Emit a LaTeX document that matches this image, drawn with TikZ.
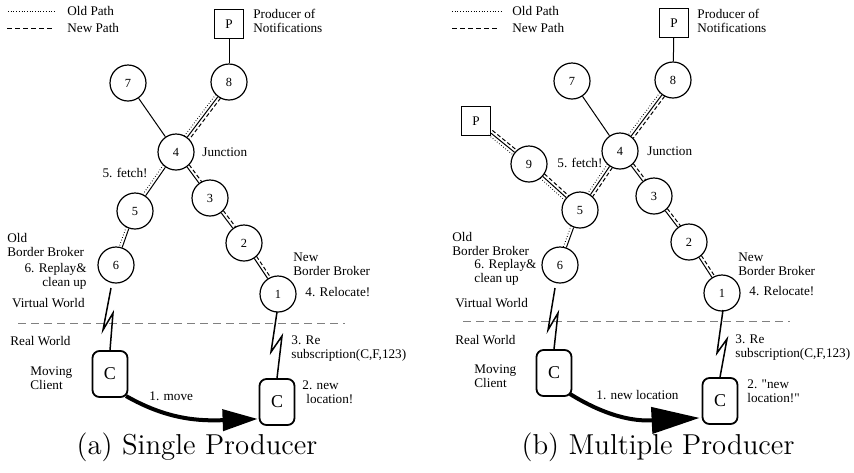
\documentclass[tikz,border=0pt]{standalone}
\usepackage{fontspec}
\newfontfamily\tms{Liberation Serif}
\usetikzlibrary{calc,arrows.meta}
\newcommand{\offl}[7]{\draw[#1] ($(#2)!#6!(#3)!1.5pt!#4:(#3)$) -- ($(#3)!#7!(#2)!1.5pt!#5:(#2)$);}
\newcommand{\oldl}[2]{\offl{oldp}{#1}{#2}{-90}{90}{9pt}{9pt}}
\newcommand{\newl}[2]{\offl{newp}{#1}{#2}{90}{-90}{9pt}{9pt}}
\begin{document}
\begin{tikzpicture}[x=0.5pt,y=-0.5pt,
  brk/.style={circle,draw,line width=0.6pt,minimum size=18pt,inner sep=0pt,font=\tms\fontsize{6.2}{7}\selectfont},
  prod/.style={rectangle,draw,line width=0.6pt,minimum size=14.5pt,inner sep=0pt,font=\tms\fontsize{6.6}{7}\selectfont},
  cli/.style={rectangle,rounded corners=3.5pt,draw,line width=0.9pt,minimum width=17.5pt,minimum height=23pt,inner sep=0pt,font=\tms\fontsize{9}{10}\selectfont},
  lbl/.style={font=\tms\fontsize{6.6}{7}\selectfont,inner sep=0pt,anchor=west,align=left},
  plainedge/.style={line width=0.5pt},
  oldp/.style={line width=0.45pt,dash pattern=on 0.35pt off 1pt},
  newp/.style={line width=0.5pt,dash pattern=on 2pt off 1.2pt},
  legdash/.style={line width=0.5pt,dash pattern=on 2.5pt off 1.5pt},
  worldsep/.style={gray,line width=0.5pt,dash pattern=on 4pt off 2.5pt},
  bolt/.style={line width=0.75pt},
  movearrow/.style={line width=2pt},
  captxt/.style={font=\fontsize{14.4}{17}\selectfont,inner sep=0pt}
]
\useasboundingbox (0,0) rectangle (854,472);

% ================= (a) =================
\coordinate (ao1) at (8,11); \coordinate (ao2) at (55,11);
\coordinate (an1) at (7,28); \coordinate (an2) at (55,28);
\draw[oldp] (ao1) -- (ao2);
\draw[legdash] (an1) -- (an2);
\node[lbl] (aold) at (67,11) {Old Path};
\node[lbl] (anew) at (67,28) {New Path};

\node[prod] (aP) at (229,24) {P};
\node[brk] (a8) at (229,82) {8};
\node[brk] (a7) at (128,83) {7};
\node[brk] (a4) at (176,152) {4};
\node[brk] (a3) at (210,198) {3};
\node[brk] (a2) at (244,243) {2};
\node[brk] (a1) at (278,294) {1};
\node[brk] (a5) at (135,211) {5};
\node[brk] (a6) at (116,265) {6};
\node[cli] (aCl) at (110,374) {C};
\node[cli] (aCr) at (277,402) {C};

\draw[plainedge] (aP) -- (a8);
\draw[plainedge] (a7) -- (a4);
\draw[plainedge] (a8) -- (a4); \oldl{a8}{a4} \newl{a8}{a4}
\draw[plainedge] (a4) -- (a3); \newl{a4}{a3}
\draw[plainedge] (a3) -- (a2); \newl{a3}{a2}
\draw[plainedge] (a2) -- (a1); \newl{a2}{a1}
\draw[plainedge] (a4) -- (a5); \oldl{a4}{a5}
\draw[plainedge] (a5) -- (a6); \oldl{a5}{a6}

\node[lbl] (aprodl) at (253,21) {Producer of\\Notifications};
\node[lbl] (ajunc) at (202,152) {Junction};
\node[lbl,anchor=east] (afetch) at (148,173) {5. fetch!};
\node[lbl] (aoldb) at (7,245) {Old\\Border Broker};
\node[lbl,anchor=east,align=right] (arepl) at (87,276) {6. Replay\&\\clean up};
\node[lbl,anchor=east] (avirt) at (85,303) {Virtual World};
\node[lbl] (anewb) at (293,264) {New\\Border Broker};
\node[lbl] (areloc) at (305,292) {4. Relocate!};
\node[lbl] (areal) at (10,341) {Real World};
\node[lbl] (amov) at (30,378) {Moving\\Client};
\node[lbl] (aresub) at (291,349) {3. Re\\subscription(C,F,123)};
\node[lbl] (anewloc) at (302,392) {2. new\\\hspace*{2pt}location!};
\node[lbl] (amove) at (149,396) {1. move};

\coordinate (as1) at (18,323); \coordinate (as2) at (345,323);
\draw[worldsep] (as1) -- (as2);

\coordinate (ab1) at (111,288); \coordinate (ab2) at (103,330); \coordinate (ab3) at (113,313);
\draw[bolt] (ab1) -- (ab2) -- (ab3) -- (aCl.north);
\coordinate (ac1) at (277,312); \coordinate (ac2) at (271,352); \coordinate (ac3) at (282,336);
\draw[bolt] (ac1) -- (ac2) -- (ac3) -- (aCr.north);

\coordinate (aas) at (126,396);
\coordinate (aae) at ($(aCr.south west)+(-1,-7)$);
\draw[movearrow,-{Triangle[length=17.5pt,width=10.5pt]}] (aas) .. controls (168,420) and (200,421) .. (aae);

\node[captxt] (acap) at (197,447) {(a) Single Producer};

% ================= (b) =================
\coordinate (bo1) at (452,11); \coordinate (bo2) at (502,11);
\coordinate (bn1) at (452,28); \coordinate (bn2) at (500,28);
\draw[oldp] (bo1) -- (bo2);
\draw[legdash] (bn1) -- (bn2);
\node[lbl] (bold) at (512,11) {Old Path};
\node[lbl] (bnew) at (512,28) {New Path};

\node[prod] (bP) at (674,23) {P};
\node[prod] (bP2) at (476,121) {P};
\node[brk] (b8) at (673,80) {8};
\node[brk] (b7) at (572,81) {7};
\node[brk] (b4) at (620,151) {4};
\node[brk] (b3) at (654,196) {3};
\node[brk] (b2) at (689,242) {2};
\node[brk] (b1) at (722,293) {1};
\node[brk] (b9) at (529,164) {9};
\node[brk] (b5) at (580,210) {5};
\node[brk] (b6) at (560,265) {6};
\node[cli] (bCl) at (554,373) {C};
\node[cli] (bCr) at (720,401) {C};

\draw[plainedge] (bP) -- (b8);
\draw[plainedge] (b7) -- (b4);
\draw[plainedge] (b8) -- (b4); \oldl{b8}{b4} \newl{b8}{b4}
\draw[plainedge] (b4) -- (b3); \newl{b4}{b3}
\draw[plainedge] (b3) -- (b2); \newl{b3}{b2}
\draw[plainedge] (b2) -- (b1); \newl{b2}{b1}
\draw[plainedge] (b4) -- (b5); \oldl{b4}{b5} \newl{b4}{b5}
\draw[plainedge] (b5) -- (b6); \oldl{b5}{b6}
\draw[plainedge] (bP2) -- (b9);
\offl{oldp}{bP2}{b9}{-90}{90}{9.3pt}{9pt}
\offl{newp}{bP2}{b9}{90}{-90}{9.3pt}{9pt}
\draw[plainedge] (b9) -- (b5); \oldl{b9}{b5} \newl{b9}{b5}

\node[lbl] (bprodl) at (697,21) {Producer of\\Notifications};
\node[lbl] (bjunc) at (647,151) {Junction};
\node[lbl] (bfetch) at (557,163) {5. fetch!};
\node[lbl] (boldb) at (452,244) {Old\\Border Broker};
\node[lbl,font=\tms\fontsize{6.6}{5.4}\selectfont] (brepl) at (474,272) {6. Replay\&\\clean up};
\node[lbl] (bvirt) at (455,303) {Virtual World};
\node[lbl] (bnewb) at (738,264) {New\\Border Broker};
\node[lbl] (breloc) at (749,291) {4. Relocate!};
\node[lbl] (breal) at (455,340) {Real World};
\node[lbl] (bmov) at (474,376) {Moving\\Client};
\node[lbl] (bresub) at (735,348) {3. Re\\subscription(C,F,123)};
\node[lbl] (bnewloc) at (747,391) {2. "new\\location!"};
\node[lbl] (bmove) at (596,395) {1. new location};

\coordinate (bs1) at (463,321); \coordinate (bs2) at (790,321);
\draw[worldsep] (bs1) -- (bs2);

\coordinate (bb1) at (555,288); \coordinate (bb2) at (548,330); \coordinate (bb3) at (558,313);
\draw[bolt] (bb1) -- (bb2) -- (bb3) -- (bCl.north);
\coordinate (bc1) at (723,310); \coordinate (bc2) at (717,353); \coordinate (bc3) at (727,339);
\draw[bolt] (bc1) -- (bc2) -- (bc3) -- (bCr.north);

\coordinate (bas) at (570,394);
\coordinate (bae) at ($(bCr.south west)+(-2,-7)$);
\draw[movearrow,-{Triangle[length=24pt,width=13pt]}] (bas) .. controls (612,420) and (640,421) .. (bae);

\node[captxt] (bcap) at (658,447) {(b) Multiple Producer};
\end{tikzpicture}
\end{document}
